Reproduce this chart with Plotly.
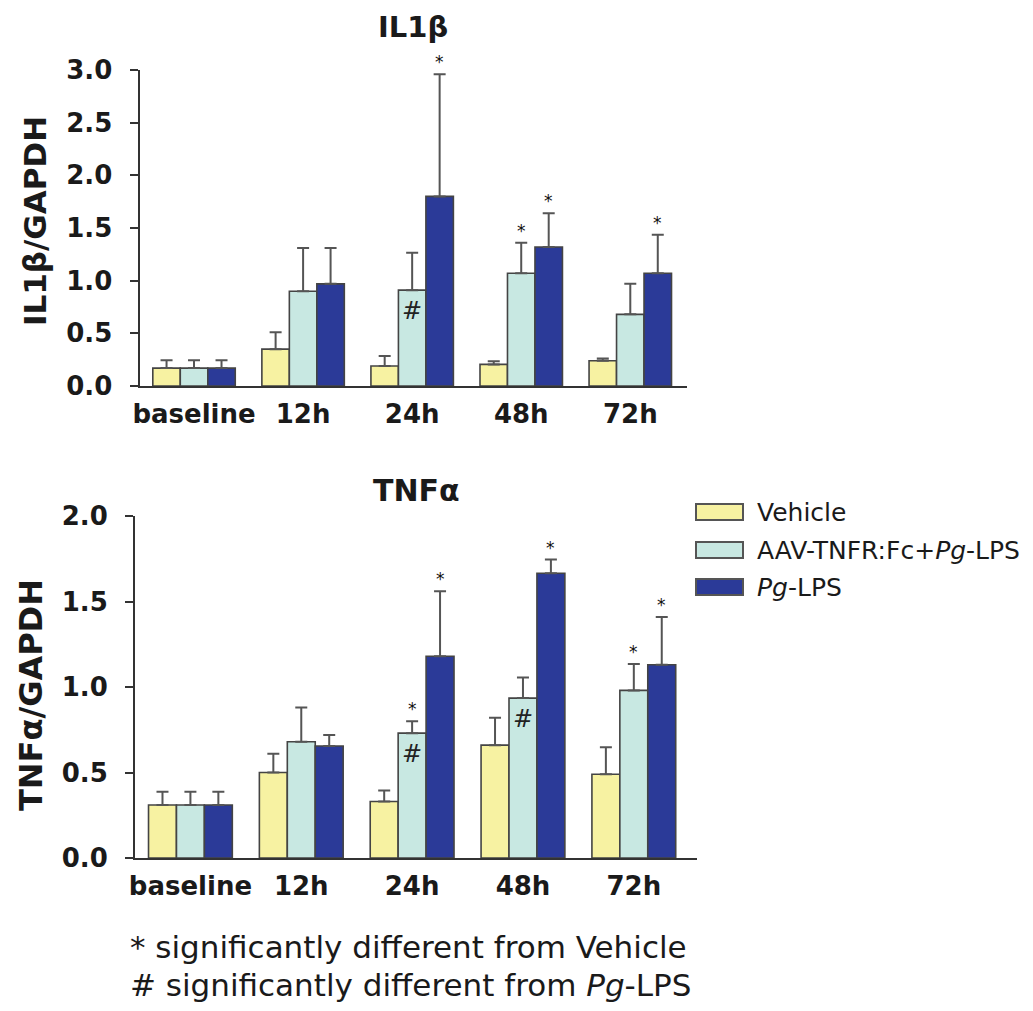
import plotly.graph_objects as go

# ---------------- data ----------------
categories = ["baseline", "12h", "24h", "48h", "72h"]
series_names = ["Vehicle", "AAV-TNFR:Fc+<i>Pg</i>-LPS", "<i>Pg</i>-LPS"]
series_colors = ["#F7F2A2", "#C8E8E2", "#2B3A98"]

il1b_vehicle = [0.17, 0.35, 0.19, 0.205, 0.24]
il1b_vehicle_err = [0.075, 0.16, 0.095, 0.03, 0.022]
il1b_aav = [0.17, 0.90, 0.91, 1.07, 0.68]
il1b_aav_err = [0.075, 0.41, 0.355, 0.29, 0.29]
il1b_pg = [0.17, 0.97, 1.80, 1.32, 1.07]
il1b_pg_err = [0.075, 0.34, 1.16, 0.32, 0.365]

tnf_vehicle = [0.31, 0.50, 0.33, 0.66, 0.49]
tnf_vehicle_err = [0.078, 0.11, 0.065, 0.16, 0.157]
tnf_aav = [0.31, 0.68, 0.73, 0.935, 0.98]
tnf_aav_err = [0.078, 0.20, 0.07, 0.12, 0.155]
tnf_pg = [0.31, 0.655, 1.18, 1.665, 1.13]
tnf_pg_err = [0.078, 0.065, 0.38, 0.08, 0.28]

# significance marks: (series index, category index)
il1b_star = [(2, 2), (1, 3), (2, 3), (2, 4)]
il1b_hash = [(1, 2)]
tnf_star = [(1, 2), (2, 2), (2, 3), (1, 4), (2, 4)]
tnf_hash = [(1, 2), (1, 3)]

footnotes = ["* significantly different from Vehicle",
             "# significantly different from <i>Pg</i>-LPS"]

# ---------------- figure ----------------
W, H = 1033, 1011
FONT = "DejaVu Sans"
AXC = "#333333"

def px(x):
    return x / W

def py(y):
    return 1 - y / H

fig = go.Figure()

BARGAP = 0.244
bw = (1 - BARGAP) / 3
offsets = [-bw, 0.0, bw]
xs = list(range(len(categories)))

panels = [
    dict(xa="x", ya="y", data=[(il1b_vehicle, il1b_vehicle_err), (il1b_aav, il1b_aav_err), (il1b_pg, il1b_pg_err)],
         star=il1b_star, hsh=il1b_hash),
    dict(xa="x2", ya="y2", data=[(tnf_vehicle, tnf_vehicle_err), (tnf_aav, tnf_aav_err), (tnf_pg, tnf_pg_err)],
         star=tnf_star, hsh=tnf_hash),
]

annotations = []
for p in panels:
    for i, (vals, errs) in enumerate(p["data"]):
        fig.add_trace(go.Bar(
            x=xs, y=vals, xaxis=p["xa"], yaxis=p["ya"],
            name=series_names[i], showlegend=False,
            marker=dict(color=series_colors[i], line=dict(color="#444444", width=1.6)),
            error_y=dict(type="data", symmetric=False, array=errs, arrayminus=[0] * len(errs),
                         color="#555555", thickness=2, width=6),
            cliponaxis=False,
        ))
    for (si, ci) in p["star"]:
        vals, errs = p["data"][si]
        annotations.append(dict(
            x=ci + offsets[si], y=vals[ci] + errs[ci], xref=p["xa"], yref=p["ya"],
            text="*", showarrow=False, yanchor="bottom", xanchor="center", yshift=0,
            font=dict(family=FONT, size=17, color="#111111")))
    for (si, ci) in p["hsh"]:
        vals, errs = p["data"][si]
        annotations.append(dict(
            x=ci + offsets[si], y=vals[ci], xref=p["xa"], yref=p["ya"],
            text="<i>#</i>", showarrow=False, yanchor="top", xanchor="center", yshift=-5,
            font=dict(family=FONT, size=24, color="#222222")))

tickfont = dict(family=FONT, size=26, color="#1a1a1a", weight="bold")

common_x = dict(tickvals=xs, ticktext=categories, showline=True, linecolor=AXC, linewidth=2,
                ticks="", showgrid=False, zeroline=False, tickfont=tickfont, ticklabelstandoff=4,
                automargin=False)
common_y = dict(showline=True, linecolor=AXC, linewidth=2, ticks="outside", ticklen=8,
                tickwidth=2, tickcolor=AXC, showgrid=False, zeroline=False, tickfont=tickfont,
                ticklabelstandoff=12, tickformat=".1f", automargin=False)

fig.update_layout(
    width=W, height=H, autosize=False,
    margin=dict(l=0, r=0, t=0, b=0, pad=0, autoexpand=False),
    paper_bgcolor="white", plot_bgcolor="white",
    barmode="group", bargap=BARGAP, bargroupgap=0,
    xaxis=dict(domain=[px(139.5), px(687)], range=[-0.5, 4.52], anchor="y", **common_x),
    yaxis=dict(domain=[py(386), py(70)], range=[0, 3.0], dtick=0.5, anchor="x", **common_y),
    xaxis2=dict(domain=[px(135), px(697)], range=[-0.5, 4.57], anchor="y2", **common_x),
    yaxis2=dict(domain=[py(858), py(516)], range=[0, 2.0], dtick=0.5, anchor="x2", **common_y),
)

# titles
annotations += [
    dict(text="<b>IL1β</b>", x=px(413), y=py(27), xref="paper", yref="paper", showarrow=False,
         xanchor="center", yanchor="middle", font=dict(family=FONT, size=29, color="#1a1a1a")),
    dict(text="<b>TNFα</b>", x=px(416), y=py(491), xref="paper", yref="paper", showarrow=False,
         xanchor="center", yanchor="middle", font=dict(family=FONT, size=30, color="#1a1a1a")),
    dict(text="<b>IL1β/GAPDH</b>", x=px(35), y=py(221), xref="paper", yref="paper", showarrow=False,
         textangle=-90, xanchor="center", yanchor="middle", font=dict(family=FONT, size=31, color="#1a1a1a")),
    dict(text="<b>TNFα/GAPDH</b>", x=px(31), y=py(695), xref="paper", yref="paper", showarrow=False,
         textangle=-90, xanchor="center", yanchor="middle", font=dict(family=FONT, size=32, color="#1a1a1a")),
]

# legend (manual, wide swatches)
legend_y = [512, 550, 587]
shapes = []
for i, name in enumerate(series_names):
    yc = legend_y[i]
    shapes.append(dict(type="rect", xref="paper", yref="paper",
                       x0=px(696), x1=px(743), y0=py(yc + 8), y1=py(yc - 8),
                       fillcolor=series_colors[i], line=dict(color="#555555", width=2)))
    annotations.append(dict(text=name, x=px(755), y=py(yc), xref="paper", yref="paper",
                            showarrow=False, xanchor="left", yanchor="middle",
                            font=dict(family=FONT, size=25, color="#1a1a1a")))

# footnotes
for j, t in enumerate(footnotes):
    annotations.append(dict(text=t, x=px(128), y=py(947 + 38 * j), xref="paper", yref="paper",
                            showarrow=False, xanchor="left", yanchor="middle",
                            font=dict(family=FONT, size=31, color="#1a1a1a")))

fig.update_layout(annotations=annotations, shapes=shapes)
fig.write_html("out.html")
